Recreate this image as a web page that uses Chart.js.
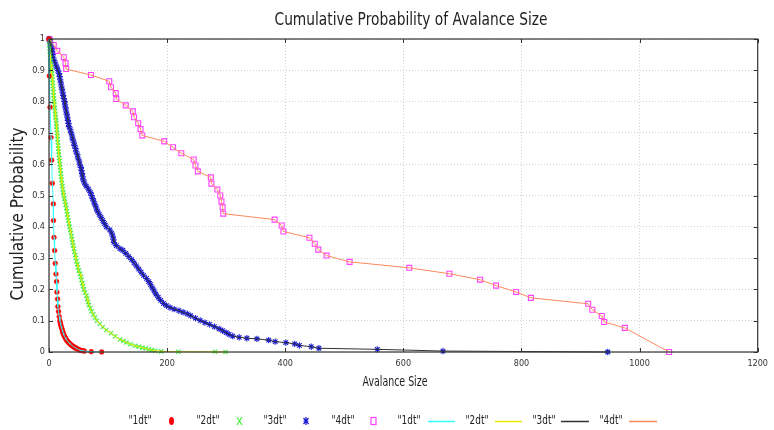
<!DOCTYPE html>
<html><head><meta charset="utf-8">
<script src="https://cdn.jsdelivr.net/npm/chart.js@4/dist/chart.umd.min.js"></script>
<style>html,body{margin:0;padding:0;background:#fff;}#wrap{width:774px;height:430px;}</style>
</head><body><div id="wrap"><canvas id="c" width="774" height="430"></canvas></div>
<script>
const chartTitle = 'Cumulative Probability of Avalance Size';
const xTitle = 'Avalance Size';
const yTitle = 'Cumulative Probability';
const seriesNames = ['"1dt"', '"2dt"', '"3dt"', '"4dt"'];
const xTicks = [0, 200, 400, 600, 800, 1000, 1200];
const xTickLabels = ['0', '200', '400', '600', '800', '1000', '1200'];
const yTicks = [0, 0.1, 0.2, 0.3, 0.4, 0.5, 0.6, 0.7, 0.8, 0.9, 1];
const yTickLabels = ['0', '0.1', '0.2', '0.3', '0.4', '0.5', '0.6', '0.7', '0.8', '0.9', '1'];

// 1dt
const size1 = [0,0.5,1.7,3.4,4.5,5.6,7.3,7.5,8.5,9.5, 10.6,11.7,12.8,13.4,14.5,15,16.2,17.3,18.4,19, 19.8,20.5,21.5,22.5,23.2,24,25,26.2,27.5,28.5, 29.6,31,32.5,34,35.5,37,38.5,40,41.5,43, 44.5,46,48,50,52,54,57.5,60,71.5,89];
const prob1 = [1,0.882,0.782,0.685,0.613,0.539,0.473,0.42,0.366,0.324, 0.283,0.249,0.225,0.191,0.169,0.145,0.129,0.113,0.1,0.094, 0.088,0.082,0.076,0.07,0.065,0.06,0.055,0.05,0.046,0.042, 0.038,0.035,0.032,0.029,0.026,0.023,0.021,0.019,0.017,0.015, 0.013,0.012,0.010,0.008,0.0065,0.005,0.004,0.003,0.001,0];

// 2dt
const size2 = [0,0.5,0.8,1.1,1.4,1.7,2.2,2.8,3.4,4, 4.5,5,5.4,5.8,6.2,6.6,7.0,7.4,7.8,8.2, 8.7,9.2,9.7,10.2,10.7,11.2,11.8,12.3,12.8,13.3, 13.7,14.1,14.5,15,15.4,15.9,16.4,16.8,17.3,17.8, 18.3,18.8,19.4,20,20.5,21.2,22,22.6,23.2,24, 25,26,27.2,28.2,29.2,30,31,32,32.8,33.8, 35,36,37,38,39,40,40.8,42,43,44.5, 45.6,46.5,48,49,50.5,52.5,54,55,56.5,57.5, 59,61,63.5,65,66,67.5,70,72,75,78, 81,86,91,97,105,112,120,126,131,138, 146,152,158,164,169,174,180,190,219,281,299];
const prob2 = [1,0.99,0.98,0.97,0.96,0.95,0.94,0.93,0.92,0.91, 0.90,0.89,0.88,0.87,0.86,0.85,0.84,0.83,0.82,0.81, 0.80,0.79,0.78,0.77,0.76,0.75,0.74,0.73,0.72,0.71, 0.70,0.69,0.68,0.67,0.66,0.65,0.64,0.63,0.62,0.61, 0.60,0.59,0.58,0.57,0.56,0.55,0.54,0.53,0.52,0.51, 0.50,0.49,0.48,0.47,0.46,0.45,0.44,0.43,0.42,0.41, 0.40,0.39,0.38,0.37,0.36,0.35,0.34,0.33,0.32,0.31, 0.30,0.29,0.28,0.27,0.26,0.25,0.24,0.23,0.22,0.21, 0.20,0.19,0.18,0.17,0.16,0.15,0.14,0.13,0.12,0.11, 0.10,0.09,0.08,0.07,0.06,0.05,0.04,0.035,0.03,0.025, 0.02,0.017,0.014,0.011,0.008,0.006,0.004,0.002,0.001,0.0005,0];

// 3dt
const size3 = [0,2,3,4,5,6,7,9,11,13, 15,17,18,19,20,21,22,23,24,25, 26.5,27,28,29,30,31,32,33,34,36, 37.5,39,40,42,43,45,46,48,49,51, 52,54,55,56,57,58,60,63,67,70, 72,74,76,78,80,82,85,88,91,94, 97,103,106,108,109,110,114,120,125,130, 135,140,144,148,152,156,160,165,169,172, 175,178,181,185,189,194,199,205,212,220, 227,234,240,248,256,264,272,280,288,294, 300,305,311,322,335,352,372,383,401,416, 424,444,457,556,667,946];
const prob3 = [1.0,0.99,0.98,0.97,0.96,0.95,0.94,0.93,0.92,0.91, 0.90,0.89,0.88,0.87,0.86,0.85,0.84,0.83,0.82,0.81, 0.80,0.79,0.78,0.77,0.76,0.75,0.74,0.73,0.72,0.71, 0.70,0.69,0.68,0.67,0.66,0.65,0.64,0.63,0.62,0.61, 0.60,0.59,0.58,0.57,0.56,0.55,0.54,0.53,0.52,0.51, 0.50,0.49,0.48,0.47,0.46,0.45,0.44,0.43,0.42,0.41, 0.40,0.39,0.38,0.37,0.36,0.35,0.34,0.33,0.325,0.315, 0.305,0.295,0.285,0.275,0.265,0.255,0.245,0.235,0.225,0.215, 0.205,0.195,0.185,0.175,0.165,0.155,0.148,0.142,0.137,0.132, 0.127,0.122,0.116,0.108,0.101,0.094,0.088,0.081,0.074,0.068, 0.062,0.056,0.051,0.047,0.044,0.042,0.038,0.033,0.030,0.026, 0.021,0.017,0.012,0.0085,0.003,0];

// 4dt
const size4 = [1,8,14,25,28,29, 71,102,105,113,114, 130,142,144,151,155, 158,195,210,224,245, 248,252,274,275,285, 290,292,294,295,382, 394,397,441,450,456, 470,509,610,678,730, 757,791,816,913,920, 936,940,975,1050];
const prob4 = [1.0,0.981,0.962,0.942,0.923,0.904, 0.885,0.865,0.846,0.827,0.808, 0.788,0.769,0.75,0.731,0.712, 0.692,0.673,0.654,0.635,0.615, 0.596,0.577,0.558,0.538,0.519, 0.5,0.481,0.462,0.442,0.423, 0.404,0.385,0.365,0.346,0.327, 0.308,0.288,0.269,0.25,0.231, 0.212,0.192,0.173,0.154,0.135, 0.115,0.096,0.077,0];

const sizes = [size1, size2, size3, size4];
const probs = [prob1, prob2, prob3, prob4];
const pointColors = ['#ff0000', '#3ef03e', '#1c1cd4', '#ff40ff'];
const pointStyles = ['circle', 'crossRot', 'star', 'rect'];
const pointRadii = [2.4, 3, 3.2, 3.5];
const lineColors = ['#33ffff', '#e8e800', '#333333', '#ff8a5c'];

function zip(xs, ys) { return xs.map((x, i) => ({ x: x, y: ys[i] })); }

const datasets = [];
for (let i = 0; i < 4; i++) {
  datasets.push({
    label: seriesNames[i] + ' line', data: zip(sizes[i], probs[i]), showLine: true,
    borderColor: lineColors[i], borderWidth: 1, pointRadius: 0, fill: false, order: 0, clip: false
  });
}
for (let i = 0; i < 4; i++) {
  datasets.push({
    label: seriesNames[i], data: zip(sizes[i], probs[i]), showLine: false,
    pointStyle: pointStyles[i], pointRadius: pointRadii[i],
    pointBorderColor: pointColors[i], pointBackgroundColor: i === 3 ? 'rgba(0,0,0,0)' : pointColors[i],
    pointBorderWidth: i === 0 ? 0.5 : 1.1, order: 1, clip: false
  });
}

function fitText(ctx, txt, cx, cy, font, w, rot, color) {
  ctx.save();
  ctx.font = font; ctx.fillStyle = color; ctx.textAlign = 'center'; ctx.textBaseline = 'middle';
  const m = ctx.measureText(txt).width;
  ctx.translate(cx, cy);
  if (rot) ctx.rotate(rot);
  ctx.scale(w / m, 1);
  ctx.fillText(txt, 0, 0);
  ctx.restore();
}

const decor = {
  id: 'decor',
  afterDraw(chart) {
    const ctx = chart.ctx, a = chart.chartArea;
    const xs = chart.scales.x, ys = chart.scales.y;
    ctx.save();
    ctx.strokeStyle = '#333'; ctx.lineWidth = 1.2;
    ctx.strokeRect(a.left, a.top, a.right - a.left, a.bottom - a.top);
    ctx.lineWidth = 1;
    ctx.beginPath();
    xTicks.forEach(v => { const p = Math.round(xs.getPixelForValue(v)) + 0.5;
      ctx.moveTo(p, a.bottom); ctx.lineTo(p, a.bottom - 4); ctx.moveTo(p, a.top); ctx.lineTo(p, a.top + 4); });
    yTicks.forEach(v => { const p = Math.round(ys.getPixelForValue(v)) + 0.5;
      ctx.moveTo(a.left, p); ctx.lineTo(a.left + 4, p); ctx.moveTo(a.right, p); ctx.lineTo(a.right - 4, p); });
    ctx.stroke();
    ctx.restore();

    fitText(ctx, chartTitle, 411, 20, '18px "DejaVu Sans"', 273, 0, '#222');
    fitText(ctx, xTitle, 395, 382, '14px "DejaVu Sans"', 65, 0, '#222');
    fitText(ctx, yTitle, 19, 214, '17px "DejaVu Sans"', 173, -Math.PI / 2, '#222');

    // legend
    const ly = 421;
    const textX = [140, 208, 275, 343, 409, 477, 544, 611];
    const markX = [171.5, 239.5, 306, 373.5];
    const lineSeg = [[428, 455], [495, 522], [561, 589], [629, 657]];
    for (let k = 0; k < 8; k++) {
      fitText(ctx, seriesNames[k % 4], textX[k], ly, '12px "DejaVu Sans"', 23, 0, '#222');
    }
    ctx.save();
    ctx.fillStyle = pointColors[0];
    ctx.beginPath(); ctx.ellipse(markX[0], ly, 2.5, 4, 0, 0, Math.PI * 2); ctx.fill();
    ctx.strokeStyle = pointColors[1]; ctx.lineWidth = 1.2;
    ctx.beginPath();
    ctx.moveTo(markX[1] - 2.5, ly - 4); ctx.lineTo(markX[1] + 2.5, ly + 4);
    ctx.moveTo(markX[1] + 2.5, ly - 4); ctx.lineTo(markX[1] - 2.5, ly + 4);
    ctx.stroke();
    ctx.strokeStyle = pointColors[2];
    ctx.beginPath();
    ctx.moveTo(markX[2], ly - 4); ctx.lineTo(markX[2], ly + 4);
    ctx.moveTo(markX[2] - 2.5, ly - 3); ctx.lineTo(markX[2] + 2.5, ly + 3);
    ctx.moveTo(markX[2] + 2.5, ly - 3); ctx.lineTo(markX[2] - 2.5, ly + 3);
    ctx.moveTo(markX[2] - 2.5, ly); ctx.lineTo(markX[2] + 2.5, ly);
    ctx.stroke();
    ctx.strokeStyle = pointColors[3];
    ctx.strokeRect(markX[3] - 2.5, ly - 3.5, 5, 7);
    ctx.lineWidth = 1.5;
    for (let k = 0; k < 4; k++) {
      ctx.strokeStyle = lineColors[k];
      ctx.beginPath(); ctx.moveTo(lineSeg[k][0], ly + 0.5); ctx.lineTo(lineSeg[k][1], ly + 0.5); ctx.stroke();
    }
    ctx.restore();
  }
};

new Chart(document.getElementById('c'), {
  type: 'scatter',
  data: { datasets: datasets },
  options: {
    responsive: false, animation: false, devicePixelRatio: 1, events: [],
    layout: { padding: { left: 0, right: 9, top: 39, bottom: 0 } },
    plugins: { legend: { display: false }, tooltip: { enabled: false }, title: { display: false } },
    scales: {
      x: {
        type: 'linear', min: 0, max: 1200,
        afterBuildTicks: s => { s.ticks = xTicks.map(v => ({ value: v })); },
        afterFit: s => { s.height = 78; },
        ticks: { color: '#333', font: { family: 'DejaVu Sans Condensed', size: 9 }, padding: 6, maxRotation: 0, autoSkip: false,
          callback: (v) => { const i = xTicks.indexOf(v); return i >= 0 ? xTickLabels[i] : ''; } },
        grid: { color: '#d2d2d2', lineWidth: 1, drawTicks: false },
        border: { display: false, dash: [1, 2] }
      },
      y: {
        type: 'linear', min: 0, max: 1,
        afterBuildTicks: s => { s.ticks = yTicks.map(v => ({ value: v })); },
        afterFit: s => { s.width = 49; },
        ticks: { color: '#333', font: { family: 'DejaVu Sans Condensed', size: 9 }, padding: 4,
          callback: (v) => { const i = yTicks.findIndex(t => Math.abs(t - v) < 1e-9); return i >= 0 ? yTickLabels[i] : ''; } },
        grid: { color: '#d2d2d2', lineWidth: 1, drawTicks: false },
        border: { display: false, dash: [1, 2] }
      }
    }
  },
  plugins: [decor]
});
</script>
</body></html>
